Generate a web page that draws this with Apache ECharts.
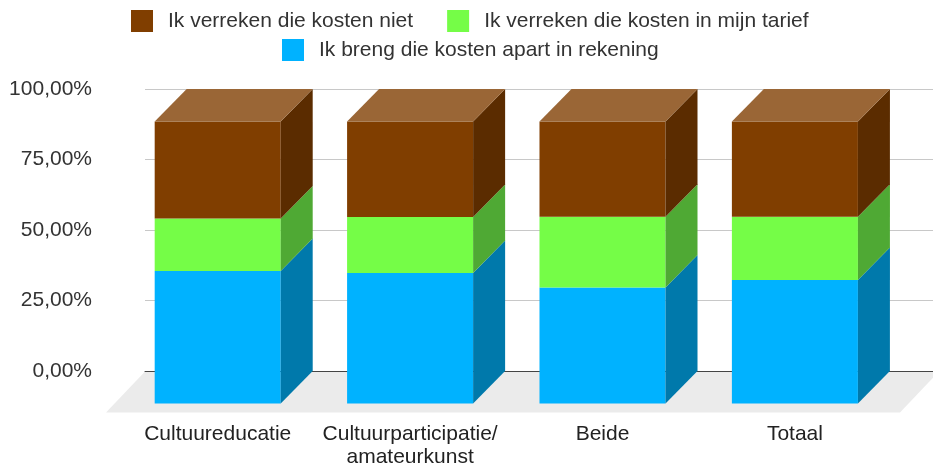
<!DOCTYPE html>
<html>
<head>
<meta charset="utf-8">
<style>
  html, body { margin: 0; padding: 0; background: #fff; }
  #chart { width: 933px; height: 466px; }
</style>
<script src="https://cdn.jsdelivr.net/npm/echarts@6/dist/echarts.min.js"></script>
</head>
<body>
<div id="chart"></div>
<script>
const categories = ["Cultuureducatie", "Cultuurparticipatie/\namateurkunst", "Beide", "Totaal"];
const yTicks = [0, 25, 50, 75, 100];

const apartValues = [47.0, 46.3, 41.1, 43.8];
const tariefValues = [18.6, 19.8, 25.1, 22.4];
const nietValues = [34.4, 33.9, 33.8, 33.8];

const nameNiet = "Ik verreken die kosten niet";
const nameTarief = "Ik verreken die kosten in mijn tarief";
const nameApart = "Ik breng die kosten apart in rekening";

const depthX = 32;
const depthY = 32.5;
const barRatio = 0.655;
const fontFamily = "Liberation Sans, Arial, sans-serif";

let chart = echarts.init(document.getElementById("chart"));

// front plane of the box sits one depth step in front of the wall with the gridlines
function renderBox(sideColor, topColor) {
    return function (params, api) {
        let bottom = api.coord([api.value(0), api.value(1)]);
        let top = api.coord([api.value(0), api.value(2)]);
        let width = api.size([1, 0])[0] * barRatio;
        let x0 = bottom[0] - width / 2;
        let x1 = bottom[0] + width / 2;
        let faces = [
            {
                type: "polygon",
                shape: { points: [[x0, top[1]], [x1, top[1]], [x1, bottom[1]], [x0, bottom[1]]] },
                style: { fill: api.visual("color") }
            },
            {
                type: "polygon",
                shape: { points: [[x1, top[1]], [x1 + depthX, top[1] - depthY], [x1 + depthX, bottom[1] - depthY], [x1, bottom[1]]] },
                style: { fill: sideColor }
            }
        ];
        if (topColor) {
            faces.push({
                type: "polygon",
                shape: { points: [[x0, top[1]], [x0 + depthX, top[1] - depthY], [x1 + depthX, top[1] - depthY], [x1, top[1]]] },
                style: { fill: topColor }
            });
        }
        return { type: "group", children: faces };
    };
}

function stackData(values, below) {
    return values.map((v, i) => [i, below[i], below[i] + v]);
}

let tariefBase = apartValues;
let nietBase = apartValues.map((v, i) => v + tariefValues[i]);

function boxSeries(name, color, side, top, data) {
    return {
        name: name,
        type: "custom",
        xAxisIndex: 1,
        yAxisIndex: 1,
        itemStyle: { color: color },
        encode: { x: 0, y: [1, 2] },
        renderItem: renderBox(side, top),
        data: data
    };
}

let legendCommon = {
    selectedMode: false,
    icon: "rect",
    itemWidth: 22,
    itemHeight: 22,
    textStyle: { fontFamily: fontFamily, fontSize: 21, color: "#333", padding: [0, 0, 0, 10] }
};

chart.setOption({
    animation: false,
    backgroundColor: "#fff",
    legend: [
        Object.assign({}, legendCommon, { left: 126, top: 5, itemGap: 34, data: [nameNiet, nameTarief] }),
        Object.assign({}, legendCommon, { left: 277, top: 34, data: [nameApart] })
    ],
    grid: [
        { left: 145, top: 89, width: 788, height: 282, outerBoundsMode: "none" },
        { left: 121.5, top: 121.5, width: 769.6, height: 282, outerBoundsMode: "none" }
    ],
    xAxis: [
        {
            gridIndex: 0,
            type: "category",
            data: categories,
            axisTick: { show: false },
            axisLabel: { show: false },
            axisLine: { lineStyle: { color: "#444", width: 1 } }
        },
        {
            gridIndex: 1,
            type: "category",
            data: categories,
            axisTick: { show: false },
            axisLine: { show: false },
            axisLabel: {
                interval: 0,
                margin: 19,
                fontFamily: fontFamily,
                fontSize: 21,
                lineHeight: 23,
                color: "#222"
            }
        }
    ],
    yAxis: [
        {
            gridIndex: 0,
            type: "value",
            min: yTicks[0],
            max: yTicks[yTicks.length - 1],
            interval: 25,
            axisLine: { show: false },
            axisTick: { show: false },
            splitLine: { lineStyle: { color: "#c8c8c8", width: 1 } },
            axisLabel: {
                margin: 53,
                padding: [2, 0, 0, 0],
                fontFamily: fontFamily,
                fontSize: 21,
                color: "#333",
                formatter: v => v.toFixed(2).replace(".", ",") + "%"
            }
        },
        { gridIndex: 1, type: "value", min: 0, max: 100, show: false }
    ],
    graphic: [{
        type: "polygon",
        z: 0,
        silent: true,
        shape: { points: [[106, 412.5], [900, 412.5], [939, 371.5], [145, 371.5]] },
        style: { fill: "#ebebeb" }
    }],
    series: [
        boxSeries(nameApart, "#00b2ff", "#0079ab", null, stackData(apartValues, apartValues.map(() => 0))),
        boxSeries(nameTarief, "#75fd47", "#4fa934", null, stackData(tariefValues, tariefBase)),
        boxSeries(nameNiet, "#803e00", "#5b2c00", "#9a6636", stackData(nietValues, nietBase))
    ]
});
</script>
</body>
</html>
